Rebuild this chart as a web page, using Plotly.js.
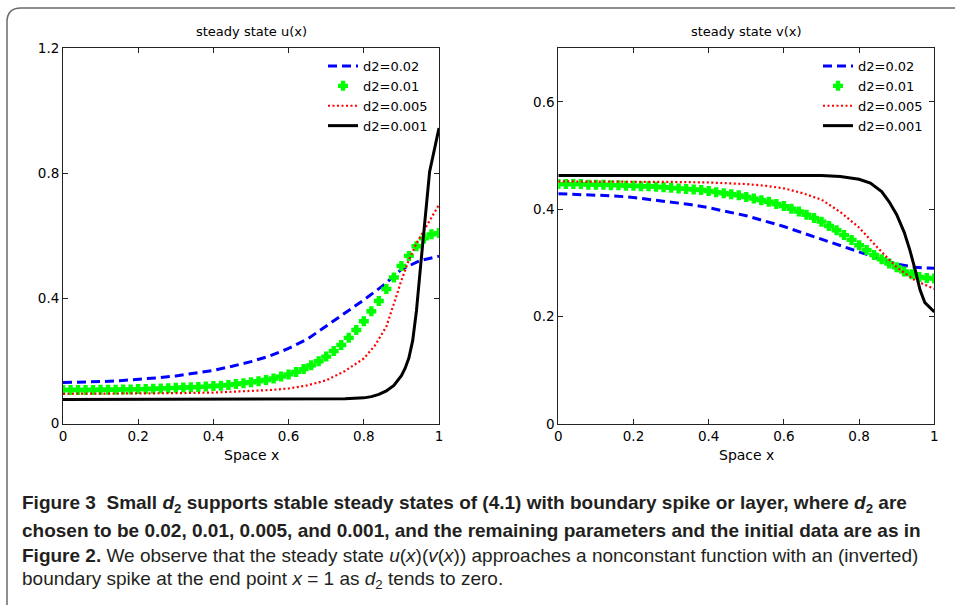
<!DOCTYPE html>
<html>
<head>
<meta charset="utf-8">
<script src="https://cdn.plot.ly/plotly-3.0.1.min.js"></script>
<style>
html,body{margin:0;padding:0;background:#fff;}
#chart{width:955px;height:605px;}
</style>
</head>
<body>
<div id="chart"></div>
<script>
// ---- data ----
const seriesNames = ['d2=0.02', 'd2=0.01', 'd2=0.005', 'd2=0.001'];
const xTicks = [0, 0.2, 0.4, 0.6, 0.8, 1];
const xTickText = ['0', '0.2', '0.4', '0.6', '0.8', '1'];
const uTicks = [0, 0.4, 0.8, 1.2];
const uTickText = ['0', '0.4', '0.8', '1.2'];
const vTicks = [0, 0.2, 0.4, 0.6];
const vTickText = ['0', '0.2', '0.4', '0.6'];

// u(x), left panel
const uBlueX = [0,0.05,0.1,0.15,0.2,0.25,0.3,0.35,0.4,0.45,0.5,0.55,0.6,0.65,0.7,0.75,0.8,0.85,0.9,0.95,1.0];
const uBlue  = [0.131,0.132,0.134,0.137,0.141,0.146,0.152,0.160,0.170,0.183,0.198,0.216,0.240,0.270,0.312,0.352,0.395,0.440,0.493,0.521,0.535];
const greenX = [0,0.02,0.04,0.06,0.08,0.10,0.12,0.14,0.16,0.18,0.20,0.22,0.24,0.26,0.28,0.30,0.32,0.34,0.36,0.38,0.40,0.42,0.44,0.46,0.48,0.50,0.52,0.54,0.56,0.58,0.60,0.62,0.64,0.66,0.68,0.70,0.72,0.74,0.76,0.78,0.80,0.82,0.84,0.86,0.88,0.90,0.92,0.94,0.96,0.98,1.00];
const uGreen = [0.107,0.107,0.107,0.107,0.107,0.108,0.108,0.108,0.109,0.109,0.110,0.110,0.111,0.112,0.113,0.114,0.115,0.116,0.117,0.118,0.120,0.121,0.123,0.126,0.129,0.132,0.135,0.139,0.144,0.150,0.157,0.165,0.174,0.186,0.199,0.214,0.232,0.251,0.274,0.299,0.327,0.359,0.392,0.430,0.467,0.504,0.536,0.567,0.592,0.605,0.609];
const uRedX = [0,0.1,0.2,0.3,0.4,0.5,0.55,0.6,0.65,0.7,0.75,0.8,0.83,0.86,0.87,0.88,0.89,0.9,0.92,0.94,0.96,0.98,1.0];
const uRed  = [0.095,0.095,0.096,0.097,0.099,0.103,0.107,0.112,0.122,0.138,0.168,0.208,0.250,0.310,0.345,0.383,0.420,0.458,0.523,0.576,0.617,0.657,0.700];
const uBlackX = [0,0.2,0.4,0.6,0.7,0.75,0.8,0.82,0.84,0.86,0.88,0.9,0.91,0.92,0.93,0.94,0.95,0.96,0.975,1.0];
const uBlack  = [0.077,0.077,0.077,0.077,0.078,0.079,0.082,0.086,0.093,0.104,0.122,0.153,0.177,0.210,0.265,0.360,0.490,0.620,0.805,0.945];

// v(x), right panel
const vBlueX = [0,0.05,0.1,0.15,0.2,0.25,0.3,0.35,0.4,0.45,0.5,0.55,0.6,0.65,0.7,0.75,0.8,0.85,0.9,0.95,1.0];
const vBlue  = [0.429,0.428,0.427,0.425,0.422,0.418,0.414,0.409,0.403,0.396,0.388,0.378,0.368,0.356,0.344,0.332,0.320,0.309,0.298,0.292,0.290];
const vGreen = [0.447,0.447,0.447,0.447,0.446,0.446,0.446,0.445,0.445,0.444,0.444,0.443,0.443,0.442,0.441,0.440,0.439,0.438,0.437,0.436,0.434,0.432,0.430,0.428,0.426,0.423,0.420,0.417,0.414,0.410,0.406,0.401,0.396,0.390,0.384,0.377,0.369,0.361,0.352,0.343,0.333,0.324,0.315,0.307,0.299,0.292,0.284,0.279,0.274,0.272,0.271];
const vRedX = [0,0.1,0.2,0.3,0.4,0.45,0.5,0.55,0.6,0.65,0.7,0.75,0.8,0.85,0.9,0.95,1.0];
const vRed  = [0.452,0.452,0.452,0.451,0.450,0.449,0.447,0.444,0.439,0.430,0.418,0.395,0.366,0.328,0.292,0.267,0.252];
const vBlackX = [0,0.2,0.4,0.6,0.7,0.75,0.8,0.83,0.86,0.88,0.9,0.92,0.935,0.95,0.962,0.975,1.0];
const vBlack  = [0.463,0.463,0.463,0.463,0.463,0.461,0.456,0.449,0.433,0.414,0.390,0.357,0.324,0.285,0.250,0.226,0.209];

// ---- styles ----
const W = 955, H = 605;
const px = v => v / W;
const py = v => 1 - v / H;
const FONT = 'DejaVu Sans, Liberation Sans, sans-serif';

const blueStyle  = {color: '#0000ff', width: 3, dash: '9px,5px'};
const redStyle   = {color: '#ff0000', width: 2.2, dash: '2px,2.5px'};
const blackStyle = {color: '#000000', width: 3};
const greenMarker = {symbol: 'cross', size: 7, color: '#00ff00', line: {width: 1.6, color: '#00ff00'}};

function panel(xa, ya, leg, bx, by, gx, gy, rx, ry, kx, ky) {
  return [
    {x: bx, y: by, xaxis: xa, yaxis: ya, legend: leg, type: 'scatter', mode: 'lines', name: seriesNames[0], line: blueStyle},
    {x: gx, y: gy, xaxis: xa, yaxis: ya, legend: leg, type: 'scatter', mode: 'markers', name: seriesNames[1], marker: greenMarker},
    {x: rx, y: ry, xaxis: xa, yaxis: ya, legend: leg, type: 'scatter', mode: 'lines', name: seriesNames[2], line: redStyle},
    {x: kx, y: ky, xaxis: xa, yaxis: ya, legend: leg, type: 'scatter', mode: 'lines', name: seriesNames[3], line: blackStyle}
  ];
}

const data = [].concat(
  panel('x', 'y', 'legend', uBlueX, uBlue, greenX, uGreen, uRedX, uRed, uBlackX, uBlack),
  panel('x2', 'y2', 'legend2', vBlueX, vBlue, greenX, vGreen, vRedX, vRed, vBlackX, vBlack)
);

const axisCommon = {
  showline: true, linecolor: '#222', linewidth: 1, mirror: 'ticks',
  ticks: 'inside', ticklen: 5, tickcolor: '#222', tickwidth: 1,
  showgrid: false, zeroline: false, tickfont: {family: FONT, size: 13.5, color: '#000'}, fixedrange: true
};

const legendCommon = {
  bgcolor: 'rgba(0,0,0,0)', borderwidth: 0, xanchor: 'left', yanchor: 'top',
  font: {family: FONT, size: 13, color: '#000'}, itemwidth: 30, tracegroupgap: 0
};

const capFont = {family: 'Liberation Sans, Arial, sans-serif', size: 19, color: '#231f20'};

const layout = {
  width: W, height: H,
  margin: {l: 0, r: 0, t: 0, b: 0, pad: 0},
  paper_bgcolor: '#fff', plot_bgcolor: '#fff',
  showlegend: true,
  xaxis: Object.assign({}, axisCommon, {domain: [px(63), px(439)], range: [0, 1], tickvals: xTicks, ticktext: xTickText, anchor: 'y'}),
  yaxis: Object.assign({}, axisCommon, {domain: [py(423.5), py(48.3)], range: [0, 1.2], tickvals: uTicks, ticktext: uTickText, anchor: 'x'}),
  xaxis2: Object.assign({}, axisCommon, {domain: [px(558.3), px(934.3)], range: [0, 1], tickvals: xTicks, ticktext: xTickText, anchor: 'y2'}),
  yaxis2: Object.assign({}, axisCommon, {domain: [py(424), py(48.3)], range: [0, 0.7], tickvals: vTicks, ticktext: vTickText, anchor: 'x2'}),
  legend: Object.assign({}, legendCommon, {x: px(323), y: py(51)}),
  legend2: Object.assign({}, legendCommon, {x: px(818), y: py(51)}),
  shapes: [{
    type: 'path', xref: 'paper', yref: 'paper', layer: 'above',
    path: `M ${px(7)},${py(606)} L ${px(7)},${py(22)} Q ${px(7)},${py(8)} ${px(21)},${py(8)} L ${px(956)},${py(8)}`,
    line: {color: '#6a6a6a', width: 1.5}
  }],
  annotations: [
    {text: 'steady state u(x)', xref: 'paper', yref: 'paper', x: px(251), y: py(31), xanchor: 'center', yanchor: 'middle', showarrow: false, font: {family: FONT, size: 13, color: '#000'}},
    {text: 'steady state v(x)', xref: 'paper', yref: 'paper', x: px(746), y: py(31), xanchor: 'center', yanchor: 'middle', showarrow: false, font: {family: FONT, size: 13, color: '#000'}},
    {text: 'Space x', xref: 'paper', yref: 'paper', x: px(251), y: py(455), xanchor: 'center', yanchor: 'middle', showarrow: false, font: {family: FONT, size: 14, color: '#000'}},
    {text: 'Space x', xref: 'paper', yref: 'paper', x: px(746), y: py(455), xanchor: 'center', yanchor: 'middle', showarrow: false, font: {family: FONT, size: 14, color: '#000'}},
    {text: '<b>Figure 3&nbsp; Small <i>d</i><sub>2</sub> supports stable steady states of (4.1) with boundary spike or layer, where <i>d</i><sub>2</sub> are</b>',
     xref: 'paper', yref: 'paper', x: px(20), y: py(504), xanchor: 'left', yanchor: 'middle', showarrow: false, align: 'left', font: capFont},
    {text: '<b>chosen to be 0.02, 0.01, 0.005, and 0.001, and the remaining parameters and the initial data are as in</b>',
     xref: 'paper', yref: 'paper', x: px(20), y: py(530), xanchor: 'left', yanchor: 'middle', showarrow: false, align: 'left', font: capFont},
    {text: '<b>Figure 2.</b> We observe that the steady state <i>u</i>(<i>x</i>)(<i>v</i>(<i>x</i>)) approaches a nonconstant function with an (inverted)',
     xref: 'paper', yref: 'paper', x: px(20), y: py(555), xanchor: 'left', yanchor: 'middle', showarrow: false, align: 'left', font: capFont},
    {text: 'boundary spike at the end point <i>x</i> = 1 as <i>d</i><sub>2</sub> tends to zero.',
     xref: 'paper', yref: 'paper', x: px(20), y: py(580), xanchor: 'left', yanchor: 'middle', showarrow: false, align: 'left', font: capFont}
  ]
};

Plotly.newPlot('chart', data, layout, {displayModeBar: false, staticPlot: true});
</script>
</body>
</html>
